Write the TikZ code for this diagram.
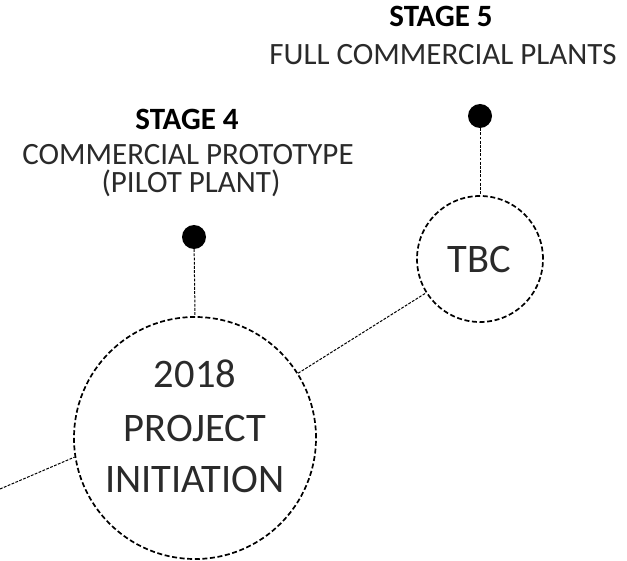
\documentclass[tikz,border=0pt]{standalone}
\usepackage{fontspec}
\setmainfont{Carlito}
\definecolor{txt}{HTML}{2A2A2A}
\begin{document}
\begin{tikzpicture}[x=1pt,y=-1pt,
  ring/.style={circle,draw=black,line width=1.7pt,dash pattern=on 5pt off 2.6pt,inner sep=0pt},
  link/.style={draw=black,line width=1pt,dash pattern=on 2.8pt off 1.4pt},
  dot/.style={circle,fill=black,inner sep=0pt,minimum size=24pt},
  ttl/.style={font=\fontsize{31}{34}\selectfont\bfseries,text=black,inner sep=0pt,anchor=base},
  dsc/.style={font=\fontsize{31}{30}\selectfont,text=txt,inner sep=0pt,anchor=base,align=center},
  big/.style={font=\fontsize{40.5}{52}\selectfont,text=txt,align=center}]
\useasboundingbox (0,0) rectangle (627,561);
% circles
\node[ring,minimum size=242pt] (init) at (195,438) {};
\node[big,anchor=base] (t2018) at (195,388) {2018};
\node[big,anchor=base] (tproj) at (195,442) {PROJECT};
\node[big,anchor=base] (tinit) at (195,493) {INITIATION};
\node[ring,minimum size=126pt] (tbc) at (480,259) {};
\node[big,anchor=base] (ttbc) at (479,273) {TBC};
% dots
\node[dot] (d4) at (194,237) {};
\node[dot] (d5) at (480,116) {};
% labels
\node[ttl] (s4) at (187,130) {STAGE 4};
\node[dsc] (s4a) at (188,165) {COMMERCIAL PROTOTYPE};
\node[dsc] (s4b) at (191,193) {(PILOT PLANT)};
\node[ttl] (s5) at (441,27) {STAGE 5};
\node[dsc] (s5a) at (443,65) {FULL COMMERCIAL PLANTS};
% connectors
\coordinate (left) at (0,489);
\draw[link] (left) -- (init.189);
\draw[link] (init) -- (tbc);
\draw[link] (d4) -- (init.north);
\draw[link] (d5) -- (tbc.north);
\end{tikzpicture}
\end{document}
